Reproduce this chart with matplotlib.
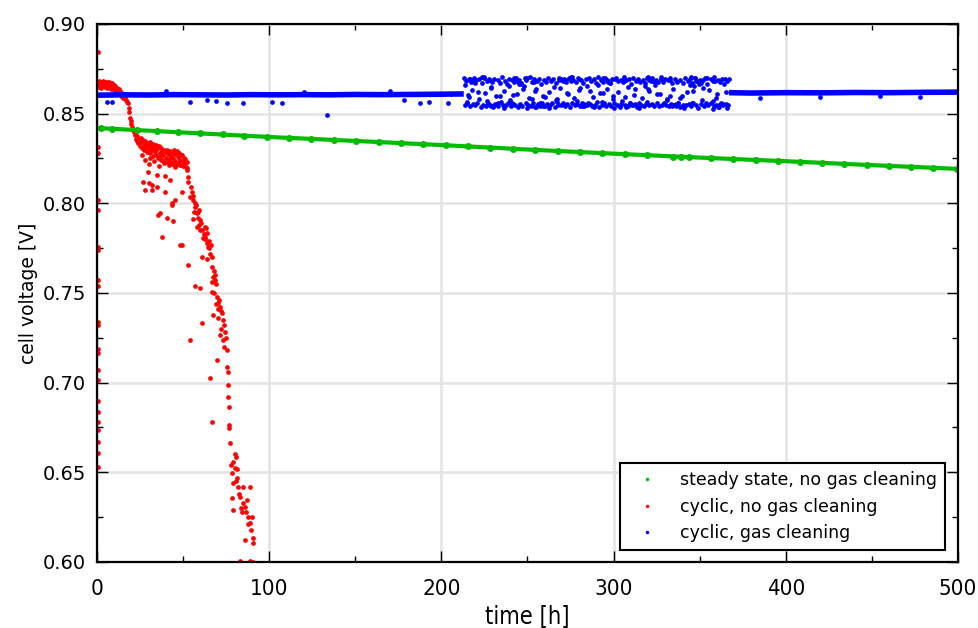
import numpy as np
import matplotlib.pyplot as plt
from matplotlib.lines import Line2D
from matplotlib.ticker import MultipleLocator

# steady state, no gas cleaning (green) - line anchors and measurement markers
green_t = [0, 50, 100, 150, 200, 250, 300, 350, 400, 450, 500]
green_v = [0.8420, 0.8395, 0.8370, 0.8348, 0.8325, 0.8300, 0.8277, 0.8255, 0.8235, 0.8213, 0.8192]
green_mark_t = [2.5, 8.5, 23, 35, 47, 60, 73, 85.5, 98.5, 111.5, 124.5, 137.5, 150.5, 163.5,
                176.5, 189.5, 202.5, 215.5, 228.5, 241.5, 254.5, 267.5, 280.5, 293.5, 306.5,
                319.5, 334.7, 339, 343.8, 356.6, 369.5, 382.5, 395.3, 408.2, 421.2, 434, 447,
                460, 472.8, 485.7, 499.3]
green_mark_v = [0.8419, 0.8416, 0.8409, 0.8403, 0.8397, 0.8390, 0.8384, 0.8377, 0.8371, 0.8365,
                0.8359, 0.8354, 0.8348, 0.8342, 0.8336, 0.8330, 0.8324, 0.8317, 0.8311, 0.8304,
                0.8298, 0.8292, 0.8286, 0.8280, 0.8274, 0.8268, 0.8261, 0.8260, 0.8258, 0.8252,
                0.8247, 0.8242, 0.8237, 0.8231, 0.8226, 0.8220, 0.8214, 0.8209, 0.8203, 0.8198,
                0.8192]

# cyclic, no gas cleaning (red)
red_t = [0.3] * 22 + [
    0.5, 0.8, 1.2, 1.6, 2.0, 2.4, 2.8, 3.2, 3.6, 4.0, 4.4, 4.8, 5.2, 5.6, 6.0, 6.4, 6.8, 7.2,
    7.6, 8.0, 8.4, 8.8, 9.2, 9.6, 10.0, 10.5, 11.0, 11.5, 12.0, 12.5, 13.0, 13.5, 14.0, 14.5,
    15.0, 15.5, 16.0, 16.5, 17.0, 17.5,
    18.0, 18.3, 18.7, 19.0, 19.5, 20.0, 20.5, 21.0, 21.5,
    22.2, 22.6, 23.1, 23.5, 23.9, 24.4, 24.8, 25.3, 25.7, 26.1, 26.6, 27.0, 27.5, 27.9, 28.3,
    28.8, 29.2, 29.7, 30.1, 30.5, 31.0, 31.4, 31.9, 32.3, 32.7, 33.2, 33.6, 34.1, 34.5, 34.9,
    35.4, 35.8, 36.3, 36.7, 37.1, 37.6, 38.0, 38.5, 38.9, 39.3, 39.8, 40.2, 40.7, 41.1, 41.5,
    42.0, 42.4, 42.9, 43.3, 43.7, 44.2, 44.6, 45.1, 45.5, 45.9, 46.4, 46.8, 47.3, 47.7, 48.1,
    48.6, 49.0, 49.5, 49.9, 50.3, 50.8, 51.2, 51.7, 52.1, 52.5,
    28, 30, 33, 36, 39, 42, 45, 48, 26, 31, 37, 43, 47, 50,
    29.6, 26.7, 30.3, 27.9, 32, 34.8, 39.5, 42.4, 49.4, 45.3, 43.5, 35.4, 40.6, 44.1, 37.7,
    49.4, 34.8, 39.5, 32, 43.5, 36.6, 48, 53, 57, 60, 54, 61, 61, 65.6, 66.8,
    52.3, 53, 53, 54, 55, 56, 56, 57, 57, 58, 58.7, 60, 60, 61.6, 62.7, 62.7, 63.9, 64.5, 65,
    66, 66.8, 66.8, 67.4, 68, 68.5, 68.5, 69, 66.8, 69.7, 70.3, 71, 71.4, 67.4, 72, 72.6, 73.2,
    73.5, 74.3, 71.4, 75, 75.5, 69.7, 75.5, 76, 76, 76, 76.7, 76.7, 76.7, 77.2, 80.7, 79, 80,
    78.4, 81.3, 79, 82, 84.8, 88.8, 78.4, 83, 87, 79, 84, 86, 87.7, 90, 88.8, 87.7, 89.4, 86,
    90.6, 90.6, 81, 82.5, 85, 83.5, 86.5, 80, 81.5, 78, 83, 89, 90.5,
    54.5, 55.5, 57.5, 58.5, 59, 59.5, 61, 62, 63, 64, 65, 60.5, 63.5, 58, 56.5, 65.5, 64, 67,
    68, 69, 70, 70.5, 72, 73, 74]
red_v = [
    0.8846, 0.8316, 0.8280, 0.8019, 0.7963, 0.7758, 0.7740, 0.7573, 0.7540, 0.7340, 0.7322,
    0.7190, 0.7166, 0.7070, 0.7015, 0.6900, 0.6838, 0.6782, 0.6736, 0.6670, 0.6607, 0.6532,
    0.8672, 0.8650, 0.8681, 0.8661, 0.8676, 0.8645, 0.8668, 0.8683, 0.8655, 0.8671, 0.8648,
    0.8679, 0.8660, 0.8674, 0.8642, 0.8666, 0.8677, 0.8652, 0.8669, 0.8638, 0.8663, 0.8673,
    0.8646, 0.8658, 0.8632, 0.8655, 0.8625, 0.8645, 0.8615, 0.8638, 0.8608, 0.8625, 0.8598,
    0.8615, 0.8590, 0.8605, 0.8582, 0.8598, 0.8575, 0.8565,
    0.8560, 0.8530, 0.8510, 0.8476, 0.8460, 0.8440, 0.8426, 0.8410, 0.8395,
    0.8382, 0.8361, 0.8349, 0.8374, 0.8336, 0.8358, 0.8322, 0.8367, 0.8341, 0.8310, 0.8352,
    0.8328, 0.8298, 0.8345, 0.8315, 0.8337, 0.8286, 0.8324, 0.8305, 0.8342, 0.8278, 0.8318,
    0.8296, 0.8333, 0.8265, 0.8310, 0.8288, 0.8325, 0.8272, 0.8302, 0.8250, 0.8318, 0.8283,
    0.8262, 0.8308, 0.8240, 0.8292, 0.8270, 0.8300, 0.8232, 0.8285, 0.8255, 0.8296, 0.8228,
    0.8276, 0.8245, 0.8292, 0.8262, 0.8222, 0.8288, 0.8250, 0.8298, 0.8236, 0.8275, 0.8215,
    0.8290, 0.8258, 0.8226, 0.8283, 0.8242, 0.8272, 0.8212, 0.8268, 0.8230, 0.8255, 0.8218,
    0.8248, 0.8205, 0.8232, 0.8195,
    0.8240, 0.8220, 0.8235, 0.8210, 0.8225, 0.8215, 0.8205, 0.8212, 0.8270, 0.8255, 0.8240,
    0.8230, 0.8222, 0.8210,
    0.8175, 0.8120, 0.8115, 0.8075, 0.8075, 0.8090, 0.8064, 0.8130, 0.8064, 0.8019, 0.8000,
    0.7935, 0.7918, 0.7900, 0.7813, 0.7768, 0.8160, 0.8150, 0.8100, 0.7990, 0.7946, 0.7770,
    0.7656, 0.7540, 0.7528, 0.7238, 0.7333, 0.7700, 0.7026, 0.6780,
    0.8186, 0.8147, 0.8120, 0.8036, 0.8064, 0.8020, 0.7910, 0.7980, 0.8000, 0.7946, 0.7952,
    0.7907, 0.7850, 0.7807, 0.7868, 0.7810, 0.7835, 0.7757, 0.7790, 0.7770, 0.7700, 0.7645,
    0.7590, 0.7620, 0.7573, 0.7600, 0.7550, 0.7506, 0.7478, 0.7445, 0.7460, 0.7422, 0.7378,
    0.7400, 0.7390, 0.7350, 0.7320, 0.7283, 0.7266, 0.7250, 0.7183, 0.7127, 0.7088, 0.7060,
    0.6987, 0.6920, 0.6864, 0.6764, 0.6747, 0.6664, 0.6586, 0.6558, 0.6524, 0.6496, 0.6468,
    0.6440, 0.6418, 0.6418, 0.6418, 0.6357, 0.6362, 0.6346, 0.6290, 0.6279, 0.6307, 0.6251,
    0.6251, 0.6217, 0.6210, 0.6178, 0.6123, 0.6134, 0.6106, 0.6450, 0.6380, 0.6330, 0.6300,
    0.6280, 0.6600, 0.6520, 0.6540, 0.6005, 0.6003, 0.6002,
    0.8090, 0.8040, 0.7990, 0.7920, 0.7960, 0.7880, 0.7850, 0.7830, 0.7800, 0.7780, 0.7750,
    0.7890, 0.7860, 0.7870, 0.7950, 0.7720, 0.7690, 0.7560, 0.7500, 0.7440, 0.7410, 0.7360,
    0.7300, 0.7240, 0.7200]

# cyclic, gas cleaning (blue): quiet stretches
blue_t1 = [0, 15, 30, 45, 60, 75, 90, 105, 120, 135, 150, 165, 180, 195, 213]
blue_v1 = [0.8603, 0.8605, 0.8604, 0.8606, 0.8605, 0.8604, 0.8606, 0.8605, 0.8606, 0.8605,
           0.8607, 0.8606, 0.8607, 0.8608, 0.8610]
blue_t2 = [367, 380, 400, 420, 440, 460, 480, 500]
blue_v2 = [0.8617, 0.8615, 0.8617, 0.8616, 0.8618, 0.8617, 0.8619, 0.8620]
blue_out_t = [5.6, 8.5, 54, 63.7, 69, 75.3, 85, 101.4, 107.3, 133.6, 178.3, 187.6, 192.8,
              203.8, 40, 120, 170, 385, 420, 455, 478]
blue_out_v = [0.8565, 0.8567, 0.8567, 0.8577, 0.8570, 0.8562, 0.8562, 0.8565, 0.8560,
              0.8495, 0.8575, 0.8562, 0.8565, 0.8562, 0.8625, 0.8622, 0.8624, 0.8590,
              0.8594, 0.8598, 0.8592]

# cyclic, gas cleaning (blue): scattered band 213-367 h
band_t = [
    213.2, 213.6, 214.3, 214.9, 215.4, 216.1, 216.8, 217.2, 217.9, 218.5, 219.0, 219.8,
    220.3, 220.9, 221.6, 222.1, 222.8, 223.4, 223.9, 224.7, 225.2, 225.8, 226.5, 227.0,
    227.7, 228.2, 228.9, 229.5, 230.0, 230.8, 231.3, 231.9, 232.6, 233.1, 233.8, 234.4,
    235.0, 235.5, 236.2, 236.8, 237.4, 238.0, 238.7, 239.2, 239.9, 240.5, 241.0, 241.7,
    242.3, 242.8, 243.5, 244.1, 244.6, 245.3, 245.9, 246.4, 247.1, 247.7, 248.3, 248.9,
    249.4, 250.1, 250.6, 251.3, 251.9, 252.4, 253.1, 253.7, 254.2, 254.9, 255.5, 256.0,
    256.7, 257.3, 257.8, 258.5, 259.1, 259.6, 260.3, 260.9, 261.4, 262.1, 262.7, 263.2,
    263.9, 264.5, 265.0, 265.7, 266.3, 266.8, 267.5, 268.1, 268.6, 269.3, 269.9, 270.4,
    271.1, 271.7, 272.2, 272.9, 273.5, 274.0, 274.7, 275.3, 275.8, 276.5, 277.1, 277.6,
    278.3, 278.9, 279.4, 280.1, 280.7, 281.2, 281.9, 282.5, 283.0, 283.7, 284.3, 284.8,
    285.5, 286.1, 286.6, 287.3, 287.9, 288.4, 289.1, 289.7, 290.2, 290.9, 291.5, 292.0,
    292.7, 293.3, 293.8, 294.5, 295.1, 295.6, 296.3, 296.9, 297.4, 298.1, 298.7, 299.2,
    299.9, 300.5, 301.0, 301.7, 302.3, 302.8, 303.5, 304.1, 304.6, 305.3, 305.9, 306.4,
    307.1, 307.7, 308.2, 308.9, 309.5, 310.0, 310.7, 311.3, 311.8, 312.5, 313.1, 313.6,
    314.3, 314.9, 315.4, 316.1, 316.7, 317.2, 317.9, 318.5, 319.0, 319.7, 320.3, 320.8,
    321.5, 322.1, 322.6, 323.3, 323.9, 324.4, 325.1, 325.7, 326.2, 326.9, 327.5, 328.0,
    328.7, 329.3, 329.8, 330.5, 331.1, 331.6, 332.3, 332.9, 333.4, 334.1, 334.7, 335.2,
    335.9, 336.5, 337.0, 337.7, 338.3, 338.8, 339.5, 340.1, 340.6, 341.3, 341.9, 342.4,
    343.1, 343.7, 344.2, 344.9, 345.5, 346.0, 346.7, 347.3, 347.8, 348.5, 349.1, 349.6,
    350.3, 350.9, 351.4, 352.1, 352.7, 353.2, 353.9, 354.5, 355.0, 355.7, 356.3, 356.8,
    357.5, 358.1, 358.6, 359.3, 359.9, 360.4, 361.1, 361.7, 362.2, 362.9, 363.5, 364.0,
    364.7, 365.3, 365.8, 366.5, 367.0, 358.0, 300.5, 250.0, 225.0, 275.0, 320.0, 345.0,
    213.9, 226.2, 239.5, 252.8, 265.4, 278.6, 291.2, 304.9, 318.1, 331.3, 344.6, 357.9,
    216.5, 229.1, 242.0, 255.2, 268.3, 281.5, 294.1, 307.4, 320.6, 333.9, 347.1, 360.8,
    218.8, 231.7, 244.9, 257.5, 270.9, 283.4, 296.8, 309.8, 322.9, 336.2, 349.4, 362.6,
    221.2, 234.0, 247.4, 260.0, 273.2, 286.3, 299.5, 312.3, 325.4, 338.6, 351.9, 365.1,
    223.6, 236.5, 249.8, 262.4, 275.6, 288.8, 301.4, 314.6, 327.8, 340.9, 354.2, 366.0,
    214.6, 227.4, 240.8, 253.9, 266.9, 280.0, 293.0, 306.0, 319.3, 332.5, 345.8, 358.8,
    217.6, 230.4, 243.8, 256.3, 269.6, 282.9, 295.9, 308.6, 321.8, 335.0, 348.0, 361.4,
    219.4, 232.9, 246.0, 258.9, 272.5, 285.0, 297.9, 311.0, 324.0, 337.3, 350.6, 363.8,
    215.8, 228.6, 241.3, 254.6, 267.2, 280.4, 293.6, 306.7, 319.9, 333.0, 346.3, 359.6]
band_v = [
    0.8697, 0.8548, 0.8683, 0.8560, 0.8605, 0.8692, 0.8541, 0.8675, 0.8632, 0.8553, 0.8700, 0.8546,
    0.8688, 0.8557, 0.8584, 0.8694, 0.8539, 0.8669, 0.8550, 0.8701, 0.8616, 0.8544, 0.8680, 0.8562,
    0.8691, 0.8548, 0.8645, 0.8677, 0.8535, 0.8696, 0.8555, 0.8598, 0.8686, 0.8542, 0.8672, 0.8563,
    0.8703, 0.8551, 0.8625, 0.8684, 0.8546, 0.8666, 0.8559, 0.8693, 0.8574, 0.8540, 0.8688, 0.8553,
    0.8678, 0.8547, 0.8699, 0.8610, 0.8538, 0.8690, 0.8556, 0.8671, 0.8543, 0.8652, 0.8697, 0.8561,
    0.8685, 0.8549, 0.8587, 0.8702, 0.8544, 0.8675, 0.8558, 0.8694, 0.8536, 0.8636, 0.8681, 0.8552,
    0.8696, 0.8545, 0.8668, 0.8562, 0.8600, 0.8689, 0.8541, 0.8677, 0.8555, 0.8699, 0.8620, 0.8548,
    0.8683, 0.8557, 0.8692, 0.8539, 0.8578, 0.8671, 0.8550, 0.8700, 0.8643, 0.8546, 0.8687, 0.8560,
    0.8694, 0.8543, 0.8674, 0.8554, 0.8608, 0.8698, 0.8537, 0.8682, 0.8561, 0.8690, 0.8590, 0.8549,
    0.8679, 0.8552, 0.8701, 0.8630, 0.8544, 0.8686, 0.8558, 0.8669, 0.8540, 0.8693, 0.8655, 0.8547,
    0.8697, 0.8556, 0.8680, 0.8542, 0.8595, 0.8691, 0.8551, 0.8673, 0.8563, 0.8704, 0.8538, 0.8614,
    0.8688, 0.8548, 0.8676, 0.8557, 0.8699, 0.8545, 0.8638, 0.8684, 0.8553, 0.8670, 0.8541, 0.8692,
    0.8581, 0.8559, 0.8695, 0.8547, 0.8682, 0.8622, 0.8539, 0.8690, 0.8555, 0.8674, 0.8702, 0.8550,
    0.8686, 0.8543, 0.8648, 0.8693, 0.8558, 0.8668, 0.8546, 0.8700, 0.8603, 0.8552, 0.8681, 0.8537,
    0.8696, 0.8561, 0.8677, 0.8549, 0.8589, 0.8689, 0.8544, 0.8672, 0.8556, 0.8698, 0.8627, 0.8547,
    0.8683, 0.8553, 0.8701, 0.8540, 0.8661, 0.8690, 0.8557, 0.8675, 0.8545, 0.8612, 0.8694, 0.8550,
    0.8679, 0.8559, 0.8692, 0.8546, 0.8583, 0.8686, 0.8541, 0.8699, 0.8554, 0.8670, 0.8640, 0.8548,
    0.8695, 0.8543, 0.8678, 0.8562, 0.8687, 0.8538, 0.8598, 0.8673, 0.8551, 0.8700, 0.8547, 0.8618,
    0.8684, 0.8556, 0.8693, 0.8544, 0.8669, 0.8560, 0.8652, 0.8697, 0.8549, 0.8681, 0.8531, 0.8676,
    0.8690, 0.8553, 0.8576, 0.8685, 0.8542, 0.8698, 0.8557, 0.8667, 0.8546, 0.8634, 0.8691, 0.8558,
    0.8680, 0.8545, 0.8702, 0.8550, 0.8607, 0.8688, 0.8539, 0.8674, 0.8561, 0.8695, 0.8548, 0.8663,
    0.8692, 0.8552, 0.8683, 0.8547, 0.8696, 0.8524, 0.8529, 0.8533, 0.8705, 0.8707, 0.8706, 0.8704,
    0.8662, 0.8571, 0.8655, 0.8580, 0.8648, 0.8568, 0.8660, 0.8573, 0.8652, 0.8577, 0.8658, 0.8569,
    0.8695, 0.8540, 0.8701, 0.8538, 0.8690, 0.8543, 0.8697, 0.8536, 0.8689, 0.8541, 0.8699, 0.8539,
    0.8679, 0.8555, 0.8668, 0.8561, 0.8684, 0.8549, 0.8675, 0.8558, 0.8681, 0.8552, 0.8667, 0.8556,
    0.8620, 0.8600, 0.8640, 0.8592, 0.8615, 0.8628, 0.8597, 0.8635, 0.8610, 0.8587, 0.8645, 0.8622,
    0.8703, 0.8533, 0.8698, 0.8530, 0.8704, 0.8535, 0.8700, 0.8532, 0.8702, 0.8534, 0.8697, 0.8530,
    0.8565, 0.8686, 0.8560, 0.8679, 0.8567, 0.8691, 0.8563, 0.8683, 0.8566, 0.8688, 0.8559, 0.8680,
    0.8687, 0.8551, 0.8680, 0.8547, 0.8694, 0.8553, 0.8686, 0.8544, 0.8692, 0.8549, 0.8683, 0.8546,
    0.8672, 0.8558, 0.8664, 0.8544, 0.8688, 0.8562, 0.8670, 0.8551, 0.8676, 0.8559, 0.8669, 0.8554,
    0.8593, 0.8650, 0.8605, 0.8628, 0.8582, 0.8641, 0.8615, 0.8595, 0.8637, 0.8601, 0.8625, 0.8589]

labels = ['steady state, no gas cleaning', 'cyclic, no gas cleaning', 'cyclic, gas cleaning']
c_green, c_red, c_blue = '#00bb00', '#ff0000', '#0000ff'

fig = plt.figure(figsize=(9.79, 6.28), dpi=100)
ax = fig.add_axes([0.0991, 0.1051, 0.8794, 0.8567])

dot = dict(linestyle='none', marker='o', markersize=3.4, markeredgewidth=0)
ax.plot(red_t, red_v, color=c_red, **dot)
ax.plot(blue_t1, blue_v1, color=c_blue, lw=4, solid_capstyle='butt')
ax.plot(blue_t2, blue_v2, color=c_blue, lw=4, solid_capstyle='butt')
ax.plot(blue_out_t, blue_out_v, color=c_blue, **dot)
ax.plot(band_t, band_v, color=c_blue, **dot)
ax.plot(green_t, green_v, color=c_green, lw=3)
ax.plot(green_mark_t, green_mark_v, color=c_green, linestyle='none', marker='o',
        markersize=5, markeredgewidth=0)

ax.set_xlim(0, 500)
ax.set_ylim(0.60, 0.90)
ax.xaxis.set_major_locator(MultipleLocator(100))
ax.xaxis.set_minor_locator(MultipleLocator(50))
ax.yaxis.set_major_locator(MultipleLocator(0.05))
ax.yaxis.set_minor_locator(MultipleLocator(0.025))
ax.yaxis.set_major_formatter(plt.FormatStrFormatter('%.2f'))
ax.grid(True, which='major', color='#e3e3e3', lw=1.8)
ax.set_axisbelow(True)
ax.tick_params(which='both', direction='in', top=True, right=True, width=1)
ax.tick_params(which='major', length=8)
ax.tick_params(which='minor', length=4)
ax.tick_params(axis='y', labelsize=14, pad=8)
ax.tick_params(axis='x', labelsize=16, pad=12)
for lab in ax.get_xticklabels():
    lab.set_fontstretch('condensed')
for sp in ax.spines.values():
    sp.set_linewidth(1.6)

ax.set_xlabel('time [h]', fontsize=17, fontstretch='condensed', labelpad=4)
ax.set_ylabel('cell voltage [V]', fontsize=13.5, labelpad=3)

handles = [Line2D([], [], color=c, linestyle='none', marker='o', markersize=2.5,
                  markeredgewidth=0) for c in (c_green, c_red, c_blue)]
leg = ax.legend(handles, labels, loc='lower right', bbox_to_anchor=(0.985, 0.022),
                borderaxespad=0, fontsize=12.5, frameon=True, fancybox=False,
                framealpha=1, edgecolor='black', handlelength=2.2, handletextpad=0.8,
                borderpad=0.45, labelspacing=0.5)
leg.get_frame().set_linewidth(1.5)

fig.savefig('out.png', dpi=100)
